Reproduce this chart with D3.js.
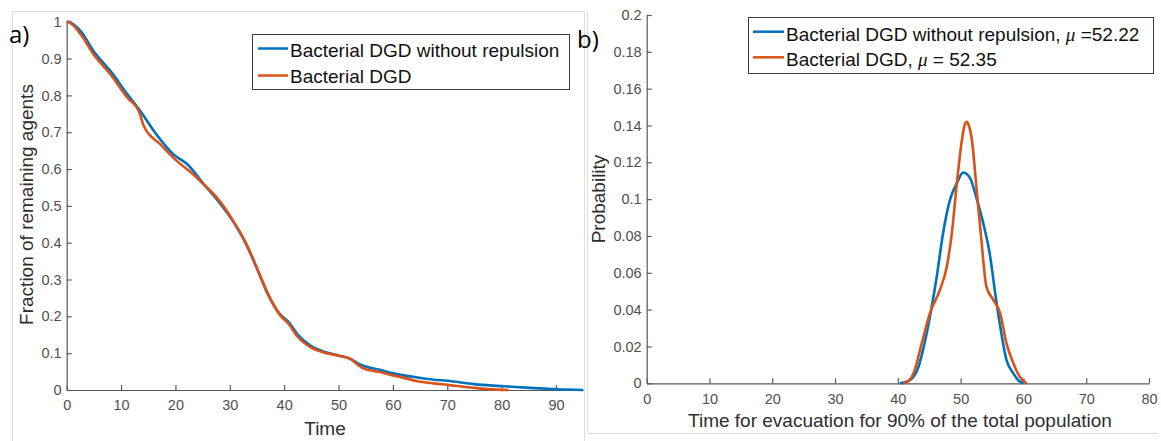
<!DOCTYPE html>
<html>
<head>
<meta charset="utf-8">
<script src="https://cdn.jsdelivr.net/npm/d3@7"></script>
<style>
  body { margin: 0; background: #fff; }
  svg { display: block; font-family: "Liberation Sans", Arial, sans-serif; }
</style>
</head>
<body>
<svg id="chart" width="1161" height="441"></svg>
<script>
// ---- data ----
// a) fraction of remaining agents over time
const timeNoRep = [0, 0.4, 1.2, 2.6, 5.0, 8.1, 11.2, 13.6, 16.1, 19.7, 22.2, 25.3, 27.7, 30.8, 32.9, 35.1, 36.9, 39.1, 40.9, 42.4, 44.9, 47.3, 50.0, 52.3, 53.6, 54.7, 57.8, 59.6, 61.5, 64.5, 67.5, 70.0, 74.9, 80.5, 86.0, 90.3, 95.0];
const fracNoRep = [1.0, 1.0, 0.993, 0.974, 0.919, 0.865, 0.802, 0.756, 0.702, 0.639, 0.613, 0.557, 0.516, 0.453, 0.399, 0.326, 0.263, 0.208, 0.183, 0.152, 0.120, 0.104, 0.094, 0.084, 0.072, 0.065, 0.054, 0.047, 0.041, 0.034, 0.028, 0.025, 0.016, 0.010, 0.005, 0.002, 0.0];
const timeDGD = [0, 0.4, 1.2, 2.6, 5.0, 8.1, 11.2, 13.3, 14.2, 17.3, 20.4, 23.4, 25.3, 27.7, 30.8, 32.9, 35.1, 36.9, 39.1, 40.9, 42.4, 44.9, 47.3, 50.0, 52.3, 53.6, 54.7, 57.8, 59.6, 61.5, 64.5, 67.5, 70.0, 74.9, 79.2, 81.3];
const fracDGD = [1.0, 0.998, 0.99, 0.965, 0.91, 0.856, 0.793, 0.756, 0.716, 0.666, 0.620, 0.584, 0.557, 0.521, 0.455, 0.401, 0.328, 0.265, 0.206, 0.178, 0.146, 0.116, 0.102, 0.093, 0.083, 0.068, 0.058, 0.048, 0.041, 0.035, 0.024, 0.018, 0.014, 0.006, 0.001, 0.0];

// b) distribution of evacuation time for 90% of the population
const evacNoRep = [40.3, 41.5, 42.5, 43.3, 44.0, 45.1, 46.2, 47.2, 48.3, 49.4, 50.4, 51.5, 52.5, 53.6, 54.7, 55.5, 56.3, 57.3, 58.4, 59.2, 60.0];
const probNoRep = [0, 0.001, 0.0036, 0.009, 0.018, 0.036, 0.058, 0.0815, 0.0996, 0.1087, 0.1145, 0.1114, 0.101, 0.087, 0.069, 0.049, 0.031, 0.0127, 0.0054, 0.0015, 0];
const evacDGD = [40.9, 41.8, 42.5, 43.8, 45.1, 46.7, 47.8, 48.6, 49.4, 50.2, 50.7, 51.0, 51.3, 51.8, 52.5, 53.3, 54.1, 55.2, 56.3, 57.3, 58.4, 59.4, 60.5];
const probDGD = [0, 0.0015, 0.0054, 0.0217, 0.038, 0.0507, 0.0634, 0.0815, 0.1087, 0.132, 0.141, 0.142, 0.140, 0.132, 0.107, 0.078, 0.0525, 0.0453, 0.038, 0.0217, 0.0109, 0.0036, 0];

const ticksA_x = [0, 10, 20, 30, 40, 50, 60, 70, 80, 90];
const ticksA_y = [0, 0.1, 0.2, 0.3, 0.4, 0.5, 0.6, 0.7, 0.8, 0.9, 1];
const ticksB_x = [0, 10, 20, 30, 40, 50, 60, 70, 80];
const ticksB_y = [0, 0.02, 0.04, 0.06, 0.08, 0.1, 0.12, 0.14, 0.16, 0.18, 0.2];

const legendA = ["Bacterial DGD without repulsion", "Bacterial DGD"];
const muValues = ["=52.22", "= 52.35"];

const blue = "#0072BD";
const orange = "#D95319";
const axisColor = "#595959";
const tickTextColor = "#4f4f4f";
const labelColor = "#2e2e2e";

const svg = d3.select("#chart");

// light frames of the two pasted panels
svg.append("path")
    .attr("d", "M12.5,441 V11.5 H584.5 V441")
    .attr("fill", "none").attr("stroke", "#dcdcdc");
svg.append("path")
    .attr("d", "M587.5,11 V433.5 H1158")
    .attr("fill", "none").attr("stroke", "#dcdcdc");

function drawAxes(g, x, y, xt, yt, fmtY) {
    const ax = g.append("g")
        .attr("transform", `translate(0,${y.range()[0]})`)
        .call(d3.axisBottom(x).tickValues(xt).tickSizeInner(-5).tickSizeOuter(0).tickPadding(10).tickFormat(d3.format("d")));
    const ay = g.append("g")
        .attr("transform", `translate(${x.range()[0]},0)`)
        .call(d3.axisLeft(y).tickValues(yt).tickSizeInner(-5).tickSizeOuter(0).tickPadding(5).tickFormat(fmtY));
    [ax, ay].forEach(a => {
        a.select(".domain").attr("stroke", axisColor).attr("stroke-width", 1.2);
        a.selectAll(".tick line").attr("stroke", axisColor).attr("stroke-width", 1.2);
        a.selectAll(".tick text")
            .attr("fill", tickTextColor)
            .attr("font-size", "14.5px")
            .attr("font-family", "'Liberation Sans', Arial, sans-serif");
    });
}

function drawLegend(g, box, rows) {
    g.append("rect")
        .attr("x", box.x).attr("y", box.y)
        .attr("width", box.w).attr("height", box.h)
        .attr("fill", "#fff").attr("stroke", "#3a3a3a").attr("stroke-width", 1);
    rows.forEach(r => {
        g.append("line")
            .attr("x1", box.lx1).attr("x2", box.lx2)
            .attr("y1", r.ly).attr("y2", r.ly)
            .attr("stroke", r.color).attr("stroke-width", 2.5);
        const t = g.append("text")
            .attr("x", box.tx).attr("y", r.ty)
            .attr("font-size", "19px").attr("fill", "#111");
        t.append("tspan").text(r.label);
        if (r.mu) {
            t.append("tspan")
                .attr("font-family", "'Liberation Serif', 'Times New Roman', serif")
                .attr("font-style", "italic")
                .text("\u03bc");
            t.append("tspan").text(" " + r.mu);
        }
    });
}

// ---------- panel a ----------
const xA = d3.scaleLinear().domain([0, 95]).range([66.7, 583.2]);
const yA = d3.scaleLinear().domain([0, 1]).range([390, 21.7]);
const gA = svg.append("g");
drawAxes(gA, xA, yA, ticksA_x, ticksA_y, d3.format("~g"));

const lineA = d3.line().x(d => xA(d[0])).y(d => yA(d[1])).curve(d3.curveMonotoneX);
gA.append("path")
    .attr("d", lineA(d3.zip(timeNoRep, fracNoRep)))
    .attr("fill", "none").attr("stroke", blue).attr("stroke-width", 2.6).attr("stroke-linejoin", "round");
gA.append("path")
    .attr("d", lineA(d3.zip(timeDGD, fracDGD)))
    .attr("fill", "none").attr("stroke", orange).attr("stroke-width", 2.6).attr("stroke-linejoin", "round");

gA.append("text")
    .attr("x", 325).attr("y", 435)
    .attr("text-anchor", "middle").attr("font-size", "19px").attr("fill", labelColor)
    .text("Time");
gA.append("text")
    .attr("transform", "translate(33,204.5) rotate(-90)")
    .attr("text-anchor", "middle").attr("font-size", "19px").attr("fill", labelColor)
    .text("Fraction of remaining agents");

drawLegend(gA, {x: 252.5, y: 34.5, w: 317, h: 55, lx1: 258, lx2: 288, tx: 290}, [
    {label: legendA[0], color: blue, ly: 48.5, ty: 57},
    {label: legendA[1], color: orange, ly: 75.5, ty: 83}
]);

svg.append("text")
    .attr("x", 9).attr("y", 43)
    .attr("font-family", "'Open Sans', sans-serif").attr("font-size", "24px").attr("fill", "#000")
    .text("a)");

// ---------- panel b ----------
const xB = d3.scaleLinear().domain([0, 80]).range([646.7, 1149]);
const yB = d3.scaleLinear().domain([0, 0.2]).range([383.3, 15]);
const gB = svg.append("g");
drawAxes(gB, xB, yB, ticksB_x, ticksB_y, d3.format("~g"));

const lineB = d3.line().x(d => xB(d[0])).y(d => yB(d[1])).curve(d3.curveMonotoneX);
gB.append("path")
    .attr("d", lineB(d3.zip(evacNoRep, probNoRep)))
    .attr("fill", "none").attr("stroke", blue).attr("stroke-width", 2.6);
gB.append("path")
    .attr("d", lineB(d3.zip(evacDGD, probDGD)))
    .attr("fill", "none").attr("stroke", orange).attr("stroke-width", 2.6);

gB.append("text")
    .attr("x", 900).attr("y", 427)
    .attr("text-anchor", "middle").attr("font-size", "19px").attr("fill", labelColor)
    .text("Time for evacuation for 90% of the total population");
gB.append("text")
    .attr("transform", "translate(605,199) rotate(-90)")
    .attr("text-anchor", "middle").attr("font-size", "19px").attr("fill", labelColor)
    .text("Probability");

drawLegend(gB, {x: 748.5, y: 17.5, w: 405, h: 56, lx1: 753, lx2: 784, tx: 786}, [
    {label: legendA[0] + ", ", mu: muValues[0], color: blue, ly: 31.7, ty: 41},
    {label: legendA[1] + ", ", mu: muValues[1], color: orange, ly: 57.3, ty: 66}
]);

svg.append("text")
    .attr("x", 577).attr("y", 48)
    .attr("font-family", "'Open Sans', sans-serif").attr("font-size", "24px").attr("fill", "#000")
    .text("b)");
</script>
</body>
</html>
